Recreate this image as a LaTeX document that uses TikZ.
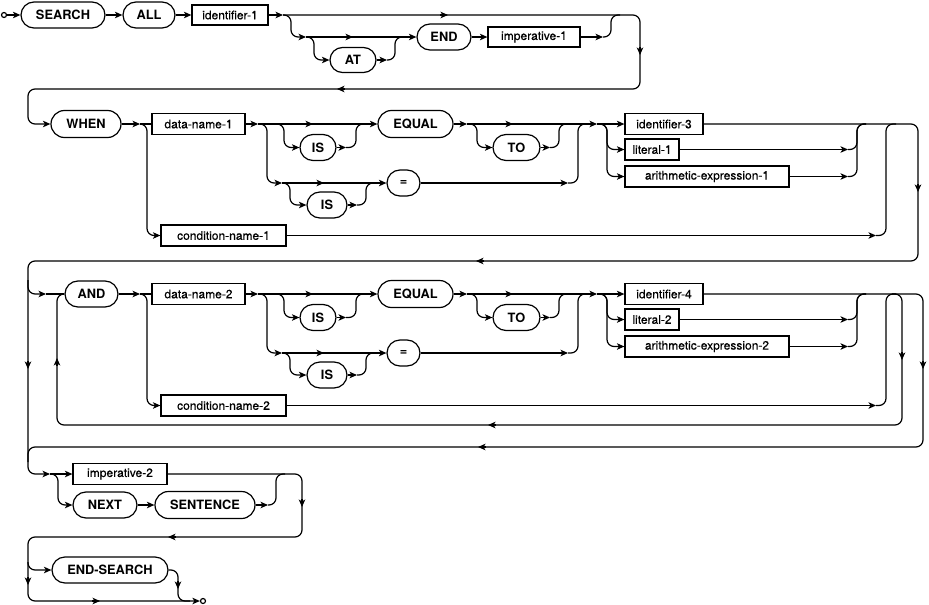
\documentclass[tikz,border=0pt]{standalone}
\usepackage{fontspec}
\setmainfont{TeX Gyre Heros}
\newfontfamily\labfont[BoldFont={TeX Gyre Heros},BoldFeatures={FakeBold=0.35}]{TeX Gyre Heros}
\usetikzlibrary{arrows.meta}
\tikzset{
  kw/.style={draw, line width=1.2pt, rounded corners=13pt, minimum height=26pt, inner sep=0pt, font=\fontsize{12.8}{14}\selectfont\bfseries},
  lab/.style={draw, line width=1.2pt, minimum height=21pt, inner sep=0pt, font=\labfont\fontsize{12}{14}\selectfont\bfseries},
  arr/.style={-{Stealth[length=7.5pt,width=6.5pt,inset=2pt]}},
  rc/.style={rounded corners=7pt},
  dot/.style={circle, draw, line width=1.2pt, inner sep=0pt, minimum size=5pt},
}
\begin{document}
\begin{tikzpicture}[x=1pt,y=-1pt,line width=1.2pt]
\useasboundingbox (0,0) rectangle (929,605);
% ---------- row 1 ----------
\node[dot] (start) at (4,15) {};
\node[kw,minimum width=84pt] (search) at (63,15) {SEARCH};
\node[kw,minimum width=52pt] (all) at (149,15) {ALL};
\node[lab,minimum width=76pt,minimum height=20pt] (ident1) at (230,15) {identifier-1};
\node[kw,minimum width=46pt,minimum height=25pt,rounded corners=12.5pt] (at) at (353,60) {AT};
\node[kw,minimum width=54pt] (end) at (444,37) {END};
\node[lab,minimum width=92pt,minimum height=20pt] (imp1) at (534,37) {imperative-1};
\node[kw,minimum width=70pt,minimum height=27pt,rounded corners=13.5pt] (when) at (86,124) {WHEN};
\draw[arr] (start.east) -- (search.west);
\draw[arr] (search.east) -- (all.west);
\draw[arr] (all.east) -- (ident1.west);
\coordinate (a1) at (283,15);
\draw[arr] (ident1.east) -- (a1);
\draw[rc,arr] (a1) -- (640,15) -- (640,89) -- (28,89) -- (28,124) -- (when.west);
\draw[arr] (440,15) -- (448,15);
\draw[arr] (640,47) -- (640,55);
\draw[arr] (345,89) -- (337,89);
\coordinate (b1) at (306,37);
\draw[rc,arr] (a1) -- (291,15) -- (291,37) -- (b1);
\draw[rc,arr] (b1) -- (314,37) -- (314,60) -- (at.west);
\draw[arr] (b1) -- (end.west);
\draw[arr] (345,37) -- (353,37);
\draw[arr] (at.east) -- (387,60);
\draw[rc] (387,60) -- (395,60) -- (395,37) -- (404,37);
\draw[arr] (end.east) -- (imp1.west);
\draw[arr] (imp1.east) -- (603,37);
\draw[rc] (603,37) -- (611,37) -- (611,15) -- (620,15);
% ---------- rows 2 and 3 ----------
\draw[arr] (when.east) -- (140,124);
\node[kw,minimum width=53pt] (and) at (91.5,294) {AND};
\draw[arr] (and.east) -- (140,294);
\foreach \s/\n/\dy in {1/3/0,2/4/170}{
\begin{scope}[shift={(0,\dy)}]
  \coordinate (j\s) at (140,124);
  \node[lab,minimum width=93pt] (dn\s) at (198.5,124) {data-name-\s};
  \node[lab,minimum width=125pt] (cn\s) at (223.5,235.5) {condition-name-\s};
  \node[kw,minimum width=36pt] (isa\s) at (318,147.5) {IS};
  \node[kw,minimum width=75pt,minimum height=27pt,rounded corners=13.5pt] (eq\s) at (415.5,124) {EQUAL};
  \node[kw,minimum width=47pt] (to\s) at (516.5,147.5) {TO};
  \node[kw,minimum width=40pt] (isb\s) at (327,205) {IS};
  \node[kw,minimum width=33pt] (es\s) at (403.5,183) {=};
  \node[lab,minimum width=78pt] (idr\s) at (664,124) {identifier-\n};
  \node[lab,minimum width=54pt] (lit\s) at (652,149.5) {literal-\s};
  \node[lab,minimum width=164pt] (ae\s) at (707,176.5) {arithmetic-expression-\s};
  \draw (j\s) -- (dn\s.west);
  \draw[rc,arr] (j\s) -- (147,124) -- (147,235.5) -- (cn\s.west);
  \draw[arr] (dn\s.east) -- (258,124);
  \draw[arr] (258,124) -- (eq\s.west);
  \draw[arr] (305,124) -- (313,124);
  \draw[rc,arr] (274,124) -- (284,124) -- (284,147.5) -- (isa\s.west);
  \draw[arr] (isa\s.east) -- (346,147.5);
  \draw[rc] (346,147.5) -- (356,147.5) -- (356,124) -- (366,124);
  \draw[rc,arr] (258,124) -- (267,124) -- (267,183) -- (282,183);
  \draw[arr] (282,183) -- (es\s.west);
  \draw[arr] (316,183) -- (324,183);
  \draw[rc,arr] (282,183) -- (290,183) -- (290,205) -- (isb\s.west);
  \draw[arr] (isb\s.east) -- (357,205);
  \draw[rc] (357,205) -- (366,205) -- (366,183) -- (375,183);
  \draw[arr] (es\s.east) -- (568,183);
  \draw[rc] (568,183) -- (578,183) -- (578,124) -- (588,124);
  \draw[arr] (eq\s.east) -- (467,124);
  \draw[arr] (467,124) -- (597,124);
  \draw[arr] (505,124) -- (513,124);
  \draw[rc,arr] (467,124) -- (477,124) -- (477,147.5) -- (to\s.west);
  \draw[arr] (to\s.east) -- (550,147.5);
  \draw[rc] (550,147.5) -- (559,147.5) -- (559,124) -- (568,124);
  \draw[arr] (597,124) -- (idr\s.west);
  \draw[rc,arr] (597,124) -- (607,124) -- (607,149.5) -- (lit\s.west);
  \draw[rc,arr] (597,124) -- (607,124) -- (607,176.5) -- (ae\s.west);
  \draw[arr] (lit\s.east) -- (848,149.5);
  \draw[rc] (848,149.5) -- (857,149.5) -- (857,124) -- (866,124);
  \draw[arr] (ae\s.east) -- (848,176.5);
  \draw[rc] (848,176.5) -- (857,176.5) -- (857,124) -- (866,124);
  \draw[arr] (cn\s.east) -- (876,235.5);
  \draw[rc] (876,235.5) -- (886,235.5) -- (886,124) -- (896,124);
\end{scope}
}
% row 2 exit and the path down the left side
\coordinate (r4) at (50,474);
\draw[rc,arr] (idr1.east) -- (918,124) -- (918,261) -- (28,261) -- (28,474) -- (r4);
\draw[arr] (918,184) -- (918,192);
\draw[arr] (484,261) -- (476,261);
\draw[arr] (28,361) -- (28,369);
\draw[rc,arr] (28,280) -- (28,294) -- (46,294);
\draw (46,294) -- (and.west);
% row 3 exit and loop
\draw[rc] (idr2.east) -- (923,294) -- (923,447) -- (28,447) -- (28,462);
\draw[arr] (923,361) -- (923,369);
\draw[arr] (486,447) -- (478,447);
\draw[rc] (892,294) -- (902,294) -- (902,425) -- (57,425) -- (57,294) -- (and.west);
\draw[arr] (902,352) -- (902,360);
\draw[arr] (496,425) -- (488,425);
\draw[arr] (57,366) -- (57,358);
% ---------- row 4 ----------
\node[lab,minimum width=94pt] (imp2) at (120,474) {imperative-2};
\node[kw,minimum width=64pt] (next) at (105,505) {NEXT};
\node[kw,minimum width=100pt,minimum height=27pt,rounded corners=13.5pt] (sent) at (205,505) {SENTENCE};
\node[kw,minimum width=116pt] (endsearch) at (110,570) {END-SEARCH};
\node[dot] (fin) at (203,601) {};
\draw[arr] (r4) -- (imp2.west);
\draw[rc,arr] (r4) -- (58,474) -- (58,505) -- (next.west);
\draw[arr] (next.east) -- (sent.west);
\draw[arr] (sent.east) -- (268,505);
\draw[rc] (268,505) -- (276,505) -- (276,474) -- (285,474);
\draw[rc,arr] (imp2.east) -- (302,474) -- (302,537) -- (28,537) -- (28,570) -- (endsearch.west);
\draw[arr] (302,499) -- (302,507);
\draw[arr] (176,537) -- (168,537);
% ---------- row 5 ----------
\draw[rc] (28,562) -- (28,601) -- (190,601);
\draw[arr] (28,577) -- (28,585);
\draw[arr] (92,601) -- (100,601);
\draw[rc,arr] (endsearch.east) -- (178,570) -- (178,601) -- (fin.west);
\draw[arr] (178,581) -- (178,589);
\end{tikzpicture}
\end{document}
